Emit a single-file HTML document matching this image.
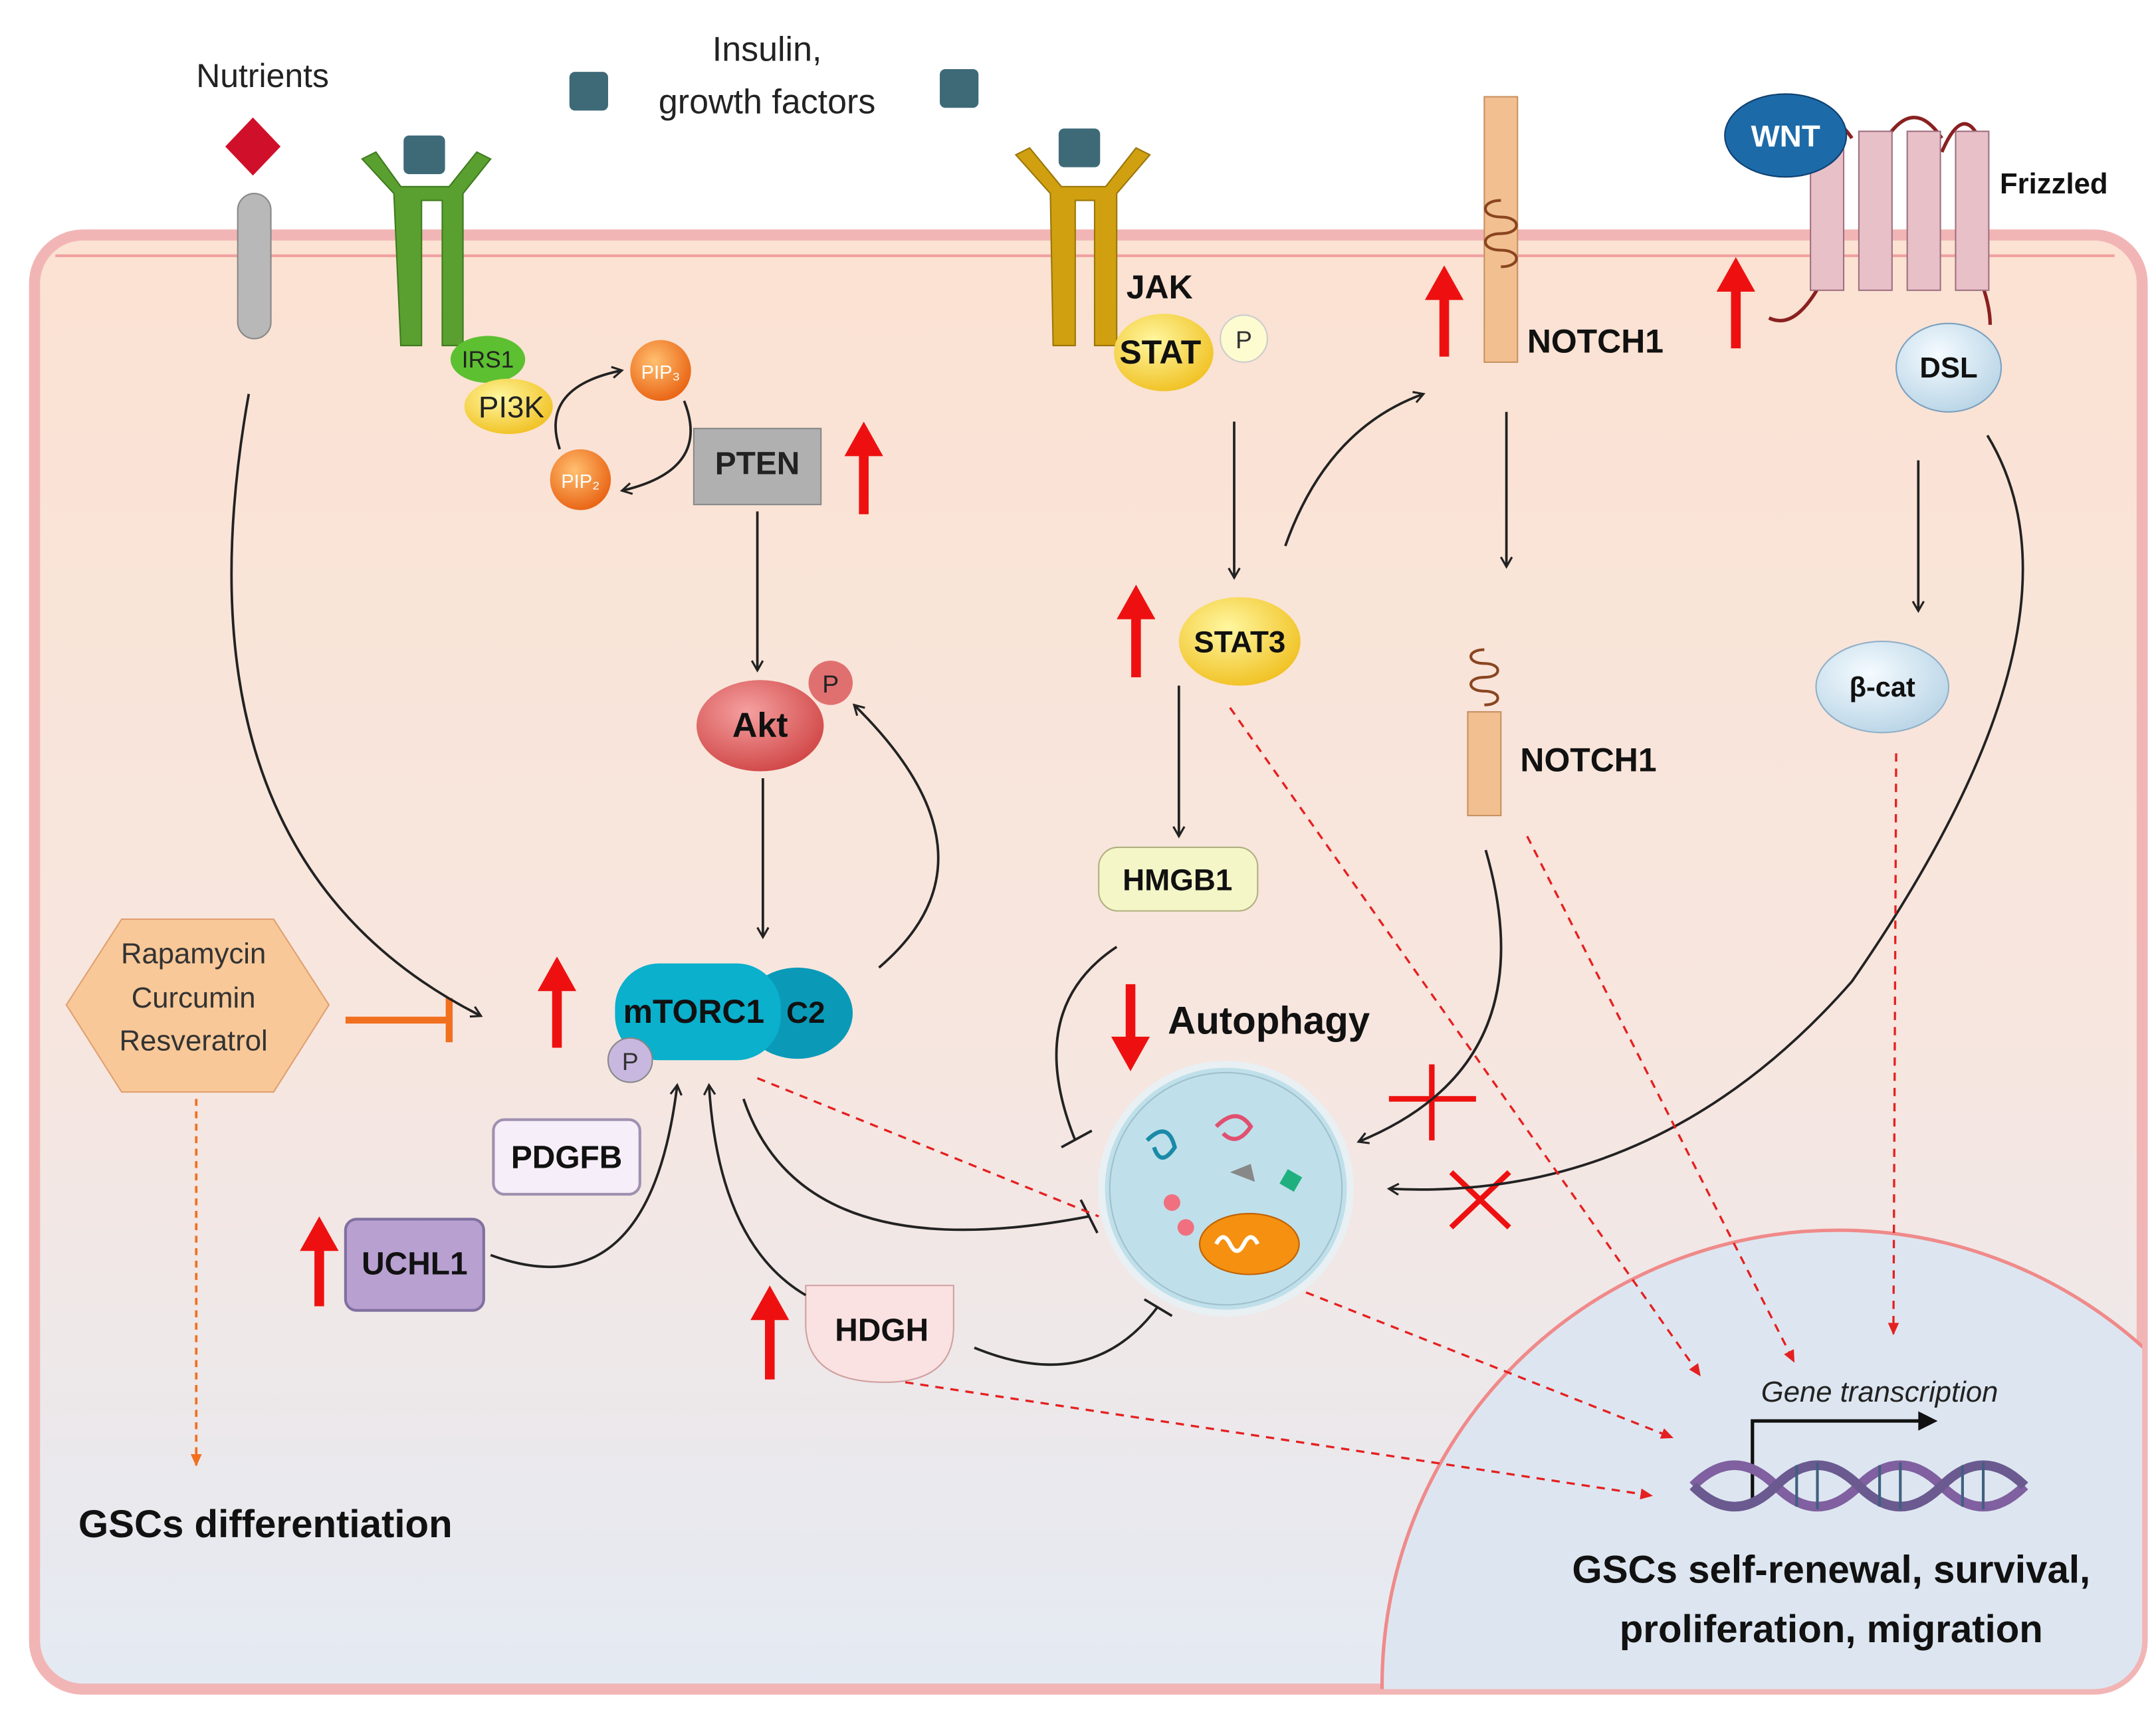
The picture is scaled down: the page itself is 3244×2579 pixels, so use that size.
<!DOCTYPE html>
<html><head><meta charset="utf-8"><style>
html,body{margin:0;padding:0;background:#fff;width:3244px;height:2579px;overflow:hidden}
svg{display:block}
text{font-family:"Liberation Sans",sans-serif}
</style></head><body>
<svg width="3244" height="2579" viewBox="0 0 1560 1240" preserveAspectRatio="none" xmlns="http://www.w3.org/2000/svg">
<defs>
<linearGradient id="cell" x1="0" y1="0" x2="0" y2="1">
<stop offset="0" stop-color="#fbe2d2"/><stop offset="0.55" stop-color="#f7e6df"/><stop offset="1" stop-color="#e4eaf3"/>
</linearGradient>
<clipPath id="cc"><rect x="25" y="170" width="1525" height="1052" rx="35"/></clipPath>
<marker id="a" markerWidth="10" markerHeight="10" refX="8" refY="5" orient="auto" markerUnits="userSpaceOnUse"><path d="M1,1 L8,5 L1,9" fill="none" stroke="#222" stroke-width="1.5"/></marker>
<marker id="r" markerWidth="10" markerHeight="10" refX="8" refY="5" orient="auto" markerUnits="userSpaceOnUse"><path d="M0,1 L9,5 L0,9z" fill="#e52020"/></marker>
<marker id="o" markerWidth="10" markerHeight="10" refX="8" refY="5" orient="auto" markerUnits="userSpaceOnUse"><path d="M0,1 L9,5 L0,9z" fill="#f07020"/></marker>
<radialGradient id="yel" cx="0.4" cy="0.35" r="0.7"><stop offset="0" stop-color="#fff7a0"/><stop offset="1" stop-color="#f0c020"/></radialGradient>
<radialGradient id="red" cx="0.4" cy="0.35" r="0.7"><stop offset="0" stop-color="#f5a0a0"/><stop offset="1" stop-color="#d04545"/></radialGradient>
<radialGradient id="blu" cx="0.4" cy="0.35" r="0.7"><stop offset="0" stop-color="#f5fbff"/><stop offset="1" stop-color="#b8d4e6"/></radialGradient>
<radialGradient id="org" cx="0.4" cy="0.35" r="0.7"><stop offset="0" stop-color="#ffc070"/><stop offset="1" stop-color="#e86010"/></radialGradient>
</defs>
<rect x="25" y="170" width="1525" height="1052" rx="35" fill="url(#cell)"/>
<rect x="25" y="170" width="1525" height="1052" rx="35" fill="none" stroke="#f2b5b5" stroke-width="8"/>
<path d="M40,185 L1530,185" fill="none" stroke="#f0a0a0" stroke-width="2"/>
<g clip-path="url(#cc)"><circle cx="1330" cy="1220" r="330" fill="#dde6f0" stroke="#f08a8a" stroke-width="2.5"/></g>

<text x="190" y="63" font-size="24" text-anchor="middle" fill="#222">Nutrients</text>
<text x="555" y="44" font-size="25" text-anchor="middle" fill="#222">Insulin,</text>
<text x="555" y="82" font-size="25" text-anchor="middle" fill="#222">growth factors</text>
<rect x="412" y="52" width="28" height="28" rx="4" fill="#3e6a78"/>
<rect x="680" y="50" width="28" height="28" rx="4" fill="#3e6a78"/>
<path d="M183,85 L203,106 L183,127 L163,106z" fill="#d0102a"/>
<rect x="172" y="140" width="24" height="105" rx="12" fill="#b8b8b8" stroke="#888"/>
<rect x="292" y="98" width="30" height="28" rx="4" fill="#3e6a78"/>
<path d="M262,115 L285,140 L290,250 L305,250 L305,145 L320,145 L320,250 L335,250 L335,140 L355,115 L345,110 L325,135 L290,135 L272,110z" fill="#5aa030" stroke="#3f7a1e"/>
<rect x="766" y="93" width="30" height="28" rx="4" fill="#3e6a78"/>
<path d="M735,112 L760,140 L762,250 L778,250 L778,145 L792,145 L792,250 L808,250 L808,140 L832,112 L822,107 L800,135 L768,135 L745,107z" fill="#d0a010" stroke="#9a7508"/>
<text x="815" y="216" font-size="24" font-weight="bold" fill="#111">JAK</text>
<ellipse cx="842" cy="255" rx="36" ry="28" fill="url(#yel)"/>
<text x="810" y="263" font-size="24" font-weight="bold" fill="#111">STAT</text>
<circle cx="900" cy="245" r="17" fill="#fdfbd0" stroke="#ccc"/>
<text x="900" y="252" font-size="18" text-anchor="middle" fill="#333">P</text>
<ellipse cx="353" cy="260" rx="27" ry="17" fill="#5cc030"/>
<text x="353" y="266" font-size="17" text-anchor="middle" fill="#222">IRS1</text>
<ellipse cx="368" cy="294" rx="32" ry="20" fill="url(#yel)"/>
<text x="370" y="302" font-size="22" text-anchor="middle" fill="#222">PI3K</text>
<circle cx="478" cy="268" r="22" fill="url(#org)"/><text x="478" y="274" font-size="14" text-anchor="middle" fill="#fff">PIP₃</text>
<circle cx="420" cy="347" r="22" fill="url(#org)"/><text x="420" y="353" font-size="14" text-anchor="middle" fill="#fff">PIP₂</text>
<path d="M405,325 Q390,280 450,268" fill="none" stroke="#222" stroke-width="1.8" marker-end="url(#a)"/>
<path d="M495,290 Q515,340 450,355" fill="none" stroke="#222" stroke-width="1.8" marker-end="url(#a)"/>
<rect x="502" y="310" width="92" height="55" fill="#b0b0b0" stroke="#888"/>
<text x="548" y="343" font-size="23" font-weight="bold" text-anchor="middle" fill="#222">PTEN</text>
<rect x="1074" y="70" width="24" height="192" fill="#f2c090" stroke="#c89060"/>
<path d="M1086,145 c-15,0 -15,12 0,12 c15,0 15,12 0,12 c-15,0 -15,12 0,12 c15,0 15,12 0,12" fill="none" stroke="#8a4520" stroke-width="2"/>
<text x="1105" y="255" font-size="24" font-weight="bold" fill="#111">NOTCH1</text>
<path d="M1300,110 Q1320,70 1340,100 M1365,100 Q1385,70 1405,100 M1405,110 Q1420,75 1432,100 M1432,200 Q1440,220 1440,235 M1320,200 Q1300,240 1280,230" fill="none" stroke="#8a2020" stroke-width="2.5"/>
<rect x="1310" y="95" width="24" height="115" fill="#e8c0c8" stroke="#a07080"/>
<rect x="1345" y="95" width="24" height="115" fill="#e8c0c8" stroke="#a07080"/>
<rect x="1380" y="95" width="24" height="115" fill="#e8c0c8" stroke="#a07080"/>
<rect x="1415" y="95" width="24" height="115" fill="#e8c0c8" stroke="#a07080"/>
<ellipse cx="1292" cy="98" rx="44" ry="30" fill="#1d6aa8" stroke="#0e4070"/>
<text x="1292" y="106" font-size="22" font-weight="bold" text-anchor="middle" fill="#fff">WNT</text>
<text x="1447" y="140" font-size="21" font-weight="bold" fill="#111">Frizzled</text>
<ellipse cx="1410" cy="266" rx="38" ry="32" fill="url(#blu)" stroke="#7aa0c0"/>
<text x="1410" y="273" font-size="21" font-weight="bold" text-anchor="middle" fill="#111">DSL</text>
<g stroke="#ee1010" stroke-width="7" fill="#ee1010">
<line x1="625" y1="372" x2="625" y2="325"/><path d="M611,330 L625,305 L639,330z" stroke="none"/>
<line x1="1045" y1="258" x2="1045" y2="212"/><path d="M1031,217 L1045,192 L1059,217z" stroke="none"/>
<line x1="1256" y1="252" x2="1256" y2="206"/><path d="M1242,211 L1256,186 L1270,211z" stroke="none"/>
<line x1="822" y1="490" x2="822" y2="443"/><path d="M808,448 L822,423 L836,448z" stroke="none"/>
<line x1="403" y1="758" x2="403" y2="712"/><path d="M389,717 L403,692 L417,717z" stroke="none"/>
<line x1="231" y1="945" x2="231" y2="900"/><path d="M217,905 L231,880 L245,905z" stroke="none"/>
<line x1="557" y1="998" x2="557" y2="950"/><path d="M543,955 L557,930 L571,955z" stroke="none"/>
<line x1="818" y1="712" x2="818" y2="755"/><path d="M804,750 L818,775 L832,750z" stroke="none"/>
</g>
<ellipse cx="550" cy="525" rx="46" ry="33" fill="url(#red)"/>
<text x="550" y="533" font-size="25" font-weight="bold" text-anchor="middle" fill="#111">Akt</text>
<circle cx="601" cy="494" r="16" fill="#e07070"/><text x="601" y="501" font-size="18" text-anchor="middle" fill="#222">P</text>
<ellipse cx="897" cy="464" rx="44" ry="32" fill="url(#yel)"/>
<text x="897" y="472" font-size="22" font-weight="bold" text-anchor="middle" fill="#111">STAT3</text>
<rect x="1062" y="515" width="24" height="75" fill="#f2c090" stroke="#c89060"/>
<path d="M1074,470 c-13,0 -13,10 0,10 c13,0 13,10 0,10 c-13,0 -13,10 0,10 c13,0 13,10 0,10" fill="none" stroke="#8a4520" stroke-width="2"/>
<text x="1100" y="558" font-size="24" font-weight="bold" fill="#111">NOTCH1</text>
<ellipse cx="1362" cy="497" rx="48" ry="33" fill="url(#blu)" stroke="#90b0c8"/>
<text x="1362" y="504" font-size="20" font-weight="bold" text-anchor="middle" fill="#111">β-cat</text>
<rect x="795" y="613" width="115" height="46" rx="14" fill="#f4f6c8" stroke="#b0b080"/>
<text x="852" y="644" font-size="22" font-weight="bold" text-anchor="middle" fill="#111">HMGB1</text>
<ellipse cx="577" cy="733" rx="40" ry="33" fill="#0a9ab8"/>
<rect x="445" y="697" width="120" height="70" rx="32" fill="#0ab0cc"/>
<text x="502" y="740" font-size="24" font-weight="bold" fill="#111" text-anchor="middle">mTORC1</text>
<text x="583" y="740" font-size="22" font-weight="bold" fill="#111" text-anchor="middle">C2</text>
<circle cx="456" cy="767" r="16" fill="#c8b8e0" stroke="#888"/><text x="456" y="774" font-size="18" text-anchor="middle" fill="#333">P</text>
<path d="M48,727 L88,665 L198,665 L238,727 L198,790 L88,790z" fill="#f8c898" stroke="#e0a070"/>
<text x="140" y="697" font-size="21" text-anchor="middle" fill="#333">Rapamycin</text>
<text x="140" y="729" font-size="21" text-anchor="middle" fill="#333">Curcumin</text>
<text x="140" y="760" font-size="21" text-anchor="middle" fill="#333">Resveratrol</text>
<line x1="250" y1="738" x2="325" y2="738" stroke="#f07020" stroke-width="5"/>
<line x1="325" y1="722" x2="325" y2="754" stroke="#f07020" stroke-width="5"/>
<line x1="142" y1="795" x2="142" y2="1060" stroke="#f07020" stroke-width="1.8" stroke-dasharray="5,4" marker-end="url(#o)"/>
<text x="192" y="1112" font-size="28" font-weight="bold" text-anchor="middle" fill="#111">GSCs differentiation</text>
<rect x="357" y="810" width="106" height="54" rx="8" fill="#f6eef8" stroke="#a090b0" stroke-width="2"/>
<text x="410" y="845" font-size="23" font-weight="bold" text-anchor="middle" fill="#111">PDGFB</text>
<rect x="250" y="882" width="100" height="66" rx="8" fill="#b8a0d0" stroke="#8070a0" stroke-width="2"/>
<text x="300" y="922" font-size="23" font-weight="bold" text-anchor="middle" fill="#111">UCHL1</text>
<path d="M583,930 L690,930 L690,960 Q690,1000 640,1000 Q585,1000 583,960z" fill="#fbe2e2" stroke="#d0a0a0"/>
<text x="638" y="970" font-size="23" font-weight="bold" text-anchor="middle" fill="#111">HDGH</text>
<text x="845" y="748" font-size="28" font-weight="bold" fill="#111">Autophagy</text>
<circle cx="887" cy="860" r="90" fill="#bfe0ea" stroke="#e8f0f4" stroke-width="5"/>
<circle cx="887" cy="860" r="84" fill="none" stroke="#9fc0cc" stroke-width="1"/>
<ellipse cx="904" cy="900" rx="36" ry="22" fill="#f59010" stroke="#c06000"/>
<path d="M880,900 q5,-10 10,0 q5,10 10,0 q5,-10 10,0" stroke="#fff" fill="none" stroke-width="3"/>
<circle cx="848" cy="870" r="6" fill="#f07080"/><circle cx="858" cy="888" r="6" fill="#f07080"/>
<path d="M830,825 q15,-15 20,5 q-10,15 -15,0" fill="none" stroke="#1a8aa8" stroke-width="3"/>
<path d="M880,815 q15,-15 25,0 q-10,15 -20,5" fill="none" stroke="#e05070" stroke-width="3"/>
<rect x="928" y="848" width="12" height="12" fill="#20b080" transform="rotate(30 934 854)"/>
<path d="M890,848 L905,842 L908,855z" fill="#888"/>
<g stroke="#ee1010" stroke-width="4">
<line x1="1005" y1="795" x2="1068" y2="795"/><line x1="1036" y1="770" x2="1036" y2="825"/>
<line x1="1050" y1="848" x2="1092" y2="888"/><line x1="1092" y1="848" x2="1050" y2="888"/>
</g>
<g fill="none" stroke="#222" stroke-width="1.8">
<path d="M180,285 Q120,620 348,735" marker-end="url(#a)"/>
<line x1="548" y1="370" x2="548" y2="485" marker-end="url(#a)"/>
<line x1="552" y1="563" x2="552" y2="678" marker-end="url(#a)"/>
<path d="M636,700 Q730,620 618,510" marker-end="url(#a)"/>
<path d="M355,908 Q470,950 490,785" marker-end="url(#a)"/>
<path d="M583,937 Q520,900 513,785" marker-end="url(#a)"/>
<path d="M538,795 Q580,920 788,880"/><line x1="782" y1="868" x2="794" y2="892"/>
<path d="M705,975 Q790,1010 838,945"/><line x1="828" y1="940" x2="848" y2="952"/>
<line x1="893" y1="305" x2="893" y2="418" marker-end="url(#a)"/>
<path d="M930,395 Q960,310 1030,285" marker-end="url(#a)"/>
<line x1="853" y1="496" x2="853" y2="605" marker-end="url(#a)"/>
<path d="M808,685 Q740,730 778,825"/><line x1="768" y1="830" x2="790" y2="818"/>
<line x1="1090" y1="298" x2="1090" y2="410" marker-end="url(#a)"/>
<path d="M1075,615 Q1120,770 983,826" marker-end="url(#a)"/>
<line x1="1388" y1="333" x2="1388" y2="442" marker-end="url(#a)"/>
<path d="M1438,315 Q1520,450 1340,710 Q1200,870 1005,860" marker-end="url(#a)"/>
</g>
<g fill="none" stroke="#e52020" stroke-width="1.6" stroke-dasharray="6,5">
<line x1="548" y1="780" x2="795" y2="880"/>
<line x1="890" y1="512" x2="1230" y2="995" marker-end="url(#r)"/>
<line x1="1105" y1="605" x2="1298" y2="985" marker-end="url(#r)"/>
<line x1="1372" y1="545" x2="1370" y2="965" marker-end="url(#r)"/>
<line x1="945" y1="935" x2="1210" y2="1040" marker-end="url(#r)"/>
<line x1="655" y1="1000" x2="1195" y2="1082" marker-end="url(#r)"/>
</g>
<text x="1360" y="1014" font-size="21" font-style="italic" text-anchor="middle" fill="#222">Gene transcription</text>
<path d="M1268,1085 L1268,1028 L1390,1028" fill="none" stroke="#111" stroke-width="2.5"/>
<path d="M1388,1021 L1402,1028 L1388,1035z" fill="#111"/>
<path d="M1225,1075 Q1255,1045 1285,1075 T1345,1075 T1405,1075 T1465,1075" fill="none" stroke="#8060a0" stroke-width="7"/>
<path d="M1225,1075 Q1255,1105 1285,1075 T1345,1075 T1405,1075 T1465,1075" fill="none" stroke="#6a5a90" stroke-width="7"/>
<g stroke="#406080" stroke-width="2"><line x1="1300" y1="1060" x2="1300" y2="1090"/><line x1="1315" y1="1058" x2="1315" y2="1092"/><line x1="1360" y1="1060" x2="1360" y2="1090"/><line x1="1375" y1="1058" x2="1375" y2="1092"/><line x1="1420" y1="1060" x2="1420" y2="1090"/><line x1="1435" y1="1058" x2="1435" y2="1092"/></g>
<text x="1325" y="1145" font-size="28" font-weight="bold" text-anchor="middle" fill="#111">GSCs self-renewal, survival,</text>
<text x="1325" y="1188" font-size="28" font-weight="bold" text-anchor="middle" fill="#111">proliferation,  migration</text>
</svg>
</body></html>
